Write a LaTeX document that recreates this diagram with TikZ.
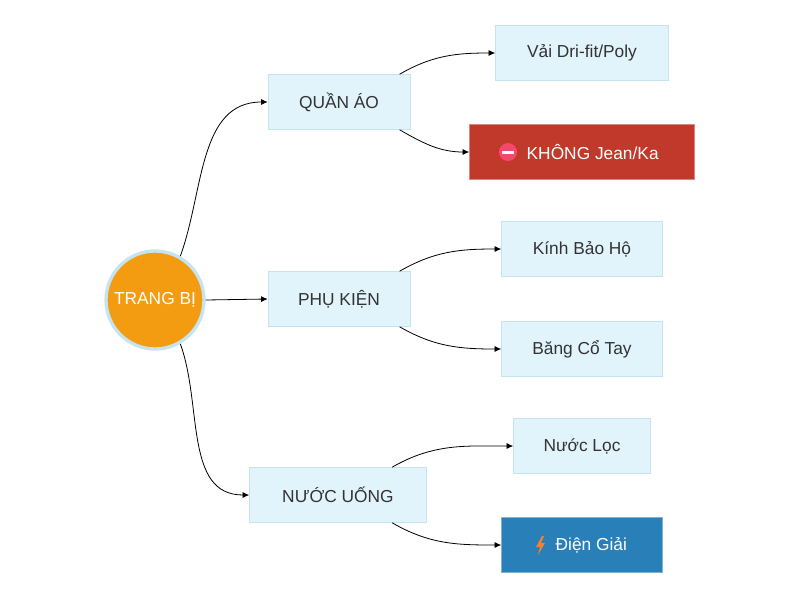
\documentclass[tikz,border=0pt]{standalone}
\usepackage{fontspec}
\setmainfont{Liberation Sans}
\usetikzlibrary{arrows.meta,positioning}
\definecolor{boxfill}{HTML}{E1F3FB}
\definecolor{boxline}{HTML}{C6E4EF}
\definecolor{rootfill}{HTML}{F39C12}
\definecolor{warnfill}{HTML}{C0392B}
\definecolor{infofill}{HTML}{2980B9}
\definecolor{stopicon}{HTML}{F5486B}
\definecolor{bolticon}{HTML}{F48032}
\definecolor{txt}{HTML}{333333}
\tikzset{
  leaf/.style={draw=boxline, fill=boxfill, text=txt, minimum height=55*0.75pt, inner sep=0pt, font=\fontsize{13}{15}\selectfont},
  edge/.style={-{Latex[length=5pt,width=4.5pt]}, black, line width=0.6pt},
}
\begin{document}
\begin{tikzpicture}[x=0.75pt, y=-0.75pt]
	\useasboundingbox (0,0) rectangle (800,600);

	% root
	\node[circle, draw=boxline, line width=2.5pt, fill=rootfill, text=white, minimum size=98*0.75pt, inner sep=0pt, font=\fontsize{13}{15}\selectfont] (root) at (155,300) {TRANG BỊ};

	% branches
	\node[leaf, minimum width=142*0.75pt] (clothes) at (339,102) {QUẦN ÁO};
	\node[leaf, minimum width=142*0.75pt] (gear) at (339,299) {PHỤ KIỆN};
	\node[leaf, minimum width=177*0.75pt] (water) at (338,495) {NƯỚC UỐNG};

	% leaves
	\node[leaf, minimum width=173*0.75pt] (fabric) at (582,53) {Vải Dri-fit/Poly};
	\node[leaf, minimum width=225*0.75pt, fill=warnfill, draw=warnfill!60!white, text=white] (nojean) at (582,152) {\hspace{16pt}KHÔNG Jean/Ka};
	\node[leaf, minimum width=161*0.75pt] (glasses) at (582,249) {Kính Bảo Hộ};
	\node[leaf, minimum width=161*0.75pt] (wrist) at (582,349) {Băng Cổ Tay};
	\node[leaf, minimum width=137*0.75pt] (filtered) at (582,446) {Nước Lọc};
	\node[leaf, minimum width=161*0.75pt, fill=infofill, draw=infofill!60!white, text=white] (electro) at (582,545) {\hspace{14pt}Điện Giải};

	% icons
	\fill[stopicon] (508,152) circle (9);
	\fill[white] (502,150.5) rectangle (514,153.5);
	\fill[bolticon] (542,536) -- (536,547) -- (540,547) -- (538,555) -- (545,543) -- (541,543) -- (544,536) -- cycle;

	% connectors
	\draw[edge] (root.60) to[out=70, in=180] (clothes.west);
	\draw[edge] (root.east) -- (gear.west);
	\draw[edge] (root.-60) to[out=-70, in=180] (water.west);

	\draw[edge] ([xshift=-8]clothes.north east) to[out=30, in=180] (fabric.west);
	\draw[edge] ([xshift=-8]clothes.south east) to[out=-30, in=180] (nojean.west);
	\draw[edge] ([xshift=-8]gear.north east) to[out=30, in=180] (glasses.west);
	\draw[edge] ([xshift=-8]gear.south east) to[out=-30, in=180] (wrist.west);
	\draw[edge] ([xshift=-26]water.north east) to[out=30, in=180] (filtered.west);
	\draw[edge] ([xshift=-26]water.south east) to[out=-30, in=180] (electro.west);
\end{tikzpicture}
\end{document}
